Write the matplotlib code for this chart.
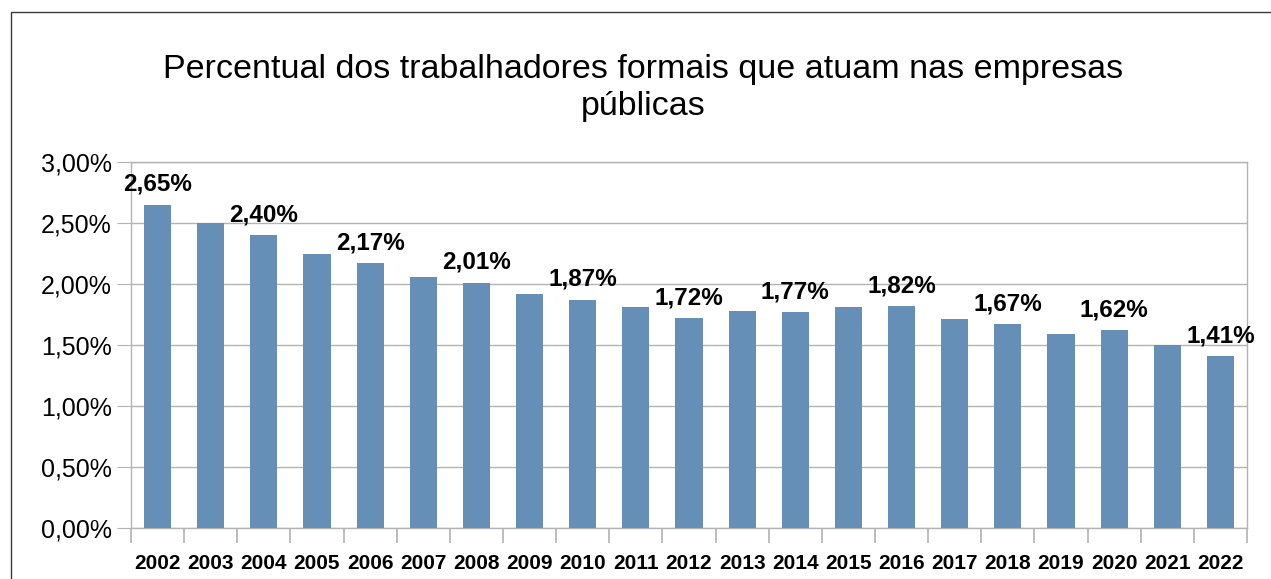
import matplotlib
matplotlib.use("Agg")
import matplotlib.pyplot as plt
from matplotlib.patches import Rectangle
from matplotlib.ticker import FixedLocator, FuncFormatter

plt.rcParams['font.family'] = ['Liberation Sans', 'DejaVu Sans']

years = ['2002', '2003', '2004', '2005', '2006', '2007', '2008', '2009', '2010', '2011',
         '2012', '2013', '2014', '2015', '2016', '2017', '2018', '2019', '2020', '2021', '2022']
values = [2.65, 2.50, 2.40, 2.25, 2.17, 2.06, 2.01, 1.92, 1.87, 1.81,
          1.72, 1.78, 1.77, 1.81, 1.82, 1.71, 1.67, 1.59, 1.62, 1.50, 1.41]
labeled_years = ['2002', '2004', '2006', '2008', '2010', '2012', '2014', '2016', '2018', '2020', '2022']
yticks = [0.0, 0.5, 1.0, 1.5, 2.0, 2.5, 3.0]
title = "Percentual dos trabalhadores formais que atuam nas empresas\npúblicas"

W, H = 1271, 579
fig = plt.figure(figsize=(W / 100, H / 100), dpi=100)
fig.patch.set_facecolor('white')

# outer border
fig.add_artist(Rectangle((11 / W, -0.1), 1.2, 1 - 12 / H + 0.1, transform=fig.transFigure,
                         fill=False, edgecolor='#3a3a3a', lw=1.0))

ax = fig.add_axes([131 / W, 51 / H, (1247 - 131) / W, (528 - 162) / H])
x = list(range(len(years)))
ax.bar(x, values, width=0.51, color='#668fb7', zorder=3)
ax.set_xlim(-0.5, len(years) - 0.5)
ax.set_ylim(0, 3.0)

grid_c = '#b3b3b3'
ax.set_yticks(yticks)
ax.yaxis.set_major_formatter(FuncFormatter(lambda v, p: f"{v:.2f}".replace('.', ',') + '%'))
ax.yaxis.grid(True, color=grid_c, lw=1.0, zorder=0)
ax.tick_params(axis='y', length=10, color=grid_c, labelsize=18, pad=4, labelcolor='black')

ax.set_xticks(x)
ax.set_xticklabels(years, fontweight='bold', fontsize=15)
ax.xaxis.set_minor_locator(FixedLocator([i - 0.5 for i in range(len(years) + 1)]))
ax.tick_params(axis='x', which='major', length=0, pad=19)
ax.tick_params(axis='x', which='minor', length=11, color=grid_c, width=1.2)

for s in ax.spines.values():
    s.set_color(grid_c)
    s.set_linewidth(1.0)

for xi, yr, v in zip(x, years, values):
    if yr in labeled_years:
        ax.annotate(f"{v:.2f}".replace('.', ',') + '%', (xi, v), xytext=(0, 10),
                    textcoords='offset points', ha='center', va='baseline',
                    fontsize=17.5, fontweight='bold', zorder=5)

fig.text(643 / W, 1 - 88 / H, title, ha='center', va='center', fontsize=24.5, linespacing=1.22)

fig.savefig('out.png', dpi=100)
